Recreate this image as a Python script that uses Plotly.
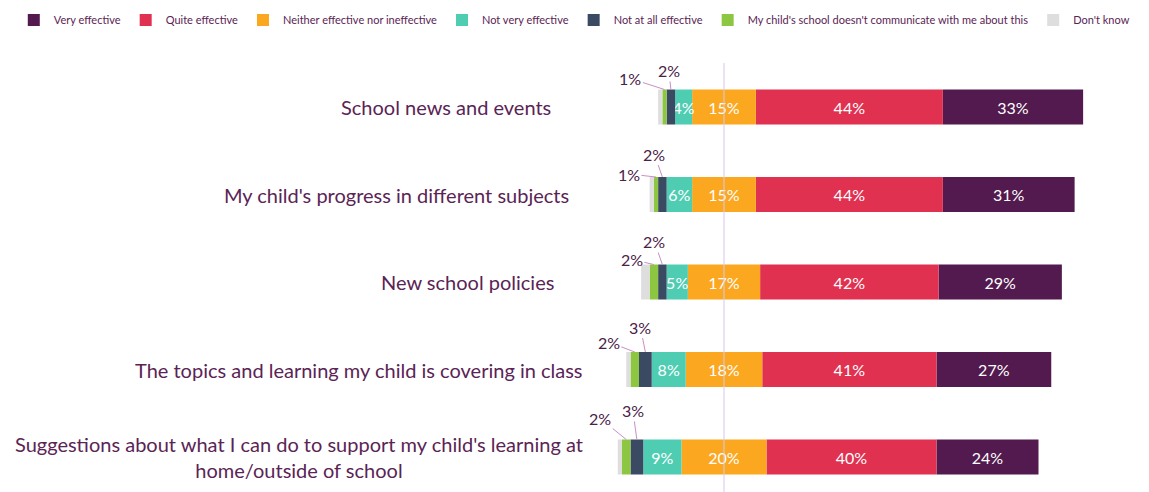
import plotly.graph_objects as go

# ---------------- data ----------------
categories = [
    "School news and events",
    "My child's progress in different subjects",
    "New school policies",
    "The topics and learning my child is covering in class",
    "Suggestions about what I can do to support my child's learning at<br>home/outside of school",
]
very_effective = [33, 31, 29, 27, 24]
quite_effective = [44, 44, 42, 41, 40]
neither = [15, 15, 17, 18, 20]
not_very = [4, 6, 5, 8, 9]
not_at_all = [2, 2, 2, 3, 3]
no_comm = [1, 1, 2, 2, 2]
dont_know = [1, 1, 2, 1, 1]

series_names = [
    "Very effective",
    "Quite effective",
    "Neither effective nor ineffective",
    "Not very effective",
    "Not at all effective",
    "My child's school doesn't communicate with me about this",
    "Don't know",
]

# ---------------- styles / layout ----------------
colors = {
    "Very effective": "#521A4E",
    "Quite effective": "#E03151",
    "Neither effective nor ineffective": "#FBA820",
    "Not very effective": "#4FCDB2",
    "Not at all effective": "#3B4A63",
    "My child's school doesn't communicate with me about this": "#8DC641",
    "Don't know": "#DEDEDE",
}
FONT = "Lato"
PURPLE_TEXT = "#5A2455"
label_right_x = [-40.2, -36.0, -39.5, -32.7, -32.7]   # right edge of row labels (axis units)
callout_nocomm_off = [(-34, -11), (-27, -3), (-22, -5), (-26, -10), (-26, -21)]
callout_notatall_off = [(-2, -19), (-8, -23), (-8, -23), (-5, -25), (-4, -29)]
BAR_W = 0.4

rows = list(range(len(categories)))

# bases for diverging stack (neither centred on zero)
half = [n / 2 for n in neither]
b_neither = [-h for h in half]
b_notvery = [-h - a for h, a in zip(half, not_very)]
b_notatall = [b - a for b, a in zip(b_notvery, not_at_all)]
b_nocomm = [b - a for b, a in zip(b_notatall, no_comm)]
b_dk = [b - a for b, a in zip(b_nocomm, dont_know)]
b_quite = half
b_very = [h + q for h, q in zip(half, quite_effective)]

traces = [
    ("Very effective", very_effective, b_very, True),
    ("Quite effective", quite_effective, b_quite, True),
    ("Neither effective nor ineffective", neither, b_neither, True),
    ("Not very effective", not_very, b_notvery, True),
    ("Not at all effective", not_at_all, b_notatall, False),
    ("My child's school doesn't communicate with me about this", no_comm, b_nocomm, False),
    ("Don't know", dont_know, b_dk, False),
]

fig = go.Figure()
for name, vals, base, show_text in traces:
    fig.add_trace(go.Bar(
        name=name,
        y=rows,
        x=vals,
        base=base,
        orientation="h",
        width=BAR_W,
        marker=dict(color=colors[name], line=dict(width=0)),
        text=[f"{v}%" for v in vals] if show_text else None,
        textposition="inside" if show_text else "none",
        insidetextanchor="middle",
        textangle=0,
        constraintext="none",
        textfont=dict(family=FONT, size=16, color="white"),
        cliponaxis=False,
        hoverinfo="skip",
    ))

annotations = []
for i, cat in enumerate(categories):
    annotations.append(dict(
        x=label_right_x[i], y=i, xref="x", yref="y",
        text=cat, showarrow=False, xanchor="right", yanchor="middle",
        align="center",
        font=dict(family=FONT, size=20, color=PURPLE_TEXT),
    ))
    # callouts for the small segments
    c_nc = b_nocomm[i] + no_comm[i] / 2
    c_na = b_notatall[i] + not_at_all[i] / 2
    for cx, v, off in ((c_nc, no_comm[i], callout_nocomm_off[i]),
                       (c_na, not_at_all[i], callout_notatall_off[i])):
        annotations.append(dict(
            x=cx, y=i - BAR_W / 2, xref="x", yref="y",
            text=f"{v}%", showarrow=True, arrowhead=0, arrowwidth=1,
            arrowcolor="#C98FC3", standoff=0, startstandoff=0,
            ax=off[0], ay=off[1],
            font=dict(family=FONT, size=16, color="#4B2147"),
        ))

fig.update_layout(
    width=1149, height=492,
    margin=dict(l=0, r=0, t=63, b=0),
    paper_bgcolor="white", plot_bgcolor="white",
    barmode="overlay",
    showlegend=True,
    legend=dict(
        orientation="h", x=0.012, xanchor="left", y=1.1, yanchor="middle",
        font=dict(family=FONT, size=11, color=PURPLE_TEXT),
        itemwidth=30, traceorder="normal", bgcolor="rgba(0,0,0,0)",
    ),
    xaxis=dict(range=[-170.35, 100], visible=False, fixedrange=True),
    yaxis=dict(range=[4.40, -0.503], visible=False, fixedrange=True),
    annotations=annotations,
    shapes=[dict(type="line", xref="x", yref="paper", x0=0, x1=0, y0=0, y1=1,
                 line=dict(color="#D9C6EE", width=1), layer="above")],
)

fig.write_html("out.html")
